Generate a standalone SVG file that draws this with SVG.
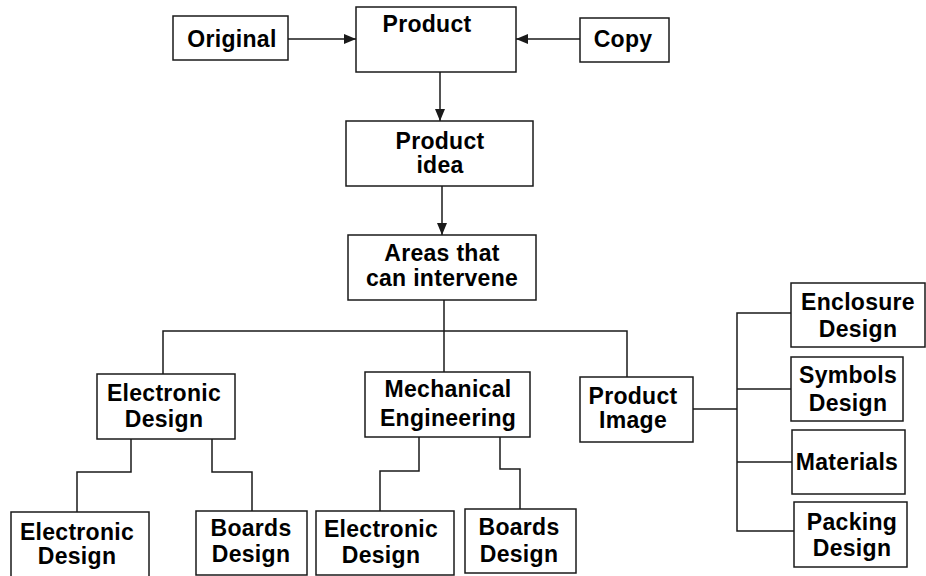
<svg xmlns="http://www.w3.org/2000/svg" width="926" height="576" viewBox="0 0 926 576">
<style>
.box{fill:#fff;stroke:#1a1a1a;stroke-width:1.5}
.ln{fill:none;stroke:#1a1a1a;stroke-width:1.5}
text{font-family:"Liberation Sans",Arial,sans-serif;font-size:23px;font-weight:bold;letter-spacing:0.3px;fill:#000;text-anchor:middle}
</style>
<defs>
<marker id="ah" markerUnits="userSpaceOnUse" markerWidth="13" markerHeight="11" refX="12" refY="5" orient="auto">
<path d="M0,0 L12,5 L0,10 z" fill="#1a1a1a"/>
</marker>
</defs>
<rect width="926" height="576" fill="#fff"/>
<g id="connectors">
<line class="ln" x1="288" y1="39" x2="356" y2="39" marker-end="url(#ah)"/>
<line class="ln" x1="580" y1="39" x2="516" y2="39" marker-end="url(#ah)"/>
<line class="ln" x1="440" y1="72" x2="440" y2="121" marker-end="url(#ah)"/>
<line class="ln" x1="442" y1="186" x2="442" y2="235" marker-end="url(#ah)"/>
<polyline class="ln" points="444,300 444,372"/>
<polyline class="ln" points="163,374 163,331 627,331 627,377"/>
<polyline class="ln" points="131,439 131,472 77,472 77,512"/>
<polyline class="ln" points="212,439 212,472 252,472 252,511"/>
<polyline class="ln" points="419,437 419,471 380,471 380,511"/>
<polyline class="ln" points="500,437 500,469 520,469 520,509"/>
<polyline class="ln" points="693,409 737,409"/>
<polyline class="ln" points="791,313 737,313 737,531 794,531"/>
<polyline class="ln" points="737,389 791,389"/>
<polyline class="ln" points="737,462 792,462"/>
</g>
<g id="original"><rect class="box" x="173" y="16" width="115" height="44"/><text x="232" y="47">Original</text></g>
<g id="product"><rect class="box" x="356" y="7" width="160" height="65"/><text x="427" y="32">Product</text></g>
<g id="copy"><rect class="box" x="580" y="18" width="89" height="44"/><text x="623" y="47">Copy</text></g>
<g id="product-idea"><rect class="box" x="346" y="121" width="187" height="65"/><text x="440" y="149">Product</text><text x="440" y="173">idea</text></g>
<g id="areas"><rect class="box" x="348" y="235" width="188" height="65"/><text x="442" y="261">Areas that</text><text x="442" y="286">can intervene</text></g>
<g id="electronic-design"><rect class="box" x="97" y="374" width="138" height="65"/><text x="164" y="401">Electronic</text><text x="164" y="427">Design</text></g>
<g id="mechanical-engineering"><rect class="box" x="365" y="372" width="165" height="65"/><text x="448" y="397">Mechanical</text><text x="448" y="426">Engineering</text></g>
<g id="product-image"><rect class="box" x="580" y="377" width="113" height="65"/><text x="633" y="404">Product</text><text x="633" y="428">Image</text></g>
<g id="enclosure-design"><rect class="box" x="791" y="283" width="134" height="64"/><text x="858" y="310">Enclosure</text><text x="858" y="337">Design</text></g>
<g id="symbols-design"><rect class="box" x="791" y="357" width="112" height="64"/><text x="848" y="383">Symbols</text><text x="848" y="411">Design</text></g>
<g id="materials"><rect class="box" x="792" y="430" width="113" height="64"/><text x="847" y="470">Materials</text></g>
<g id="packing-design"><rect class="box" x="794" y="502" width="113" height="65"/><text x="852" y="530">Packing</text><text x="852" y="556">Design</text></g>
<g id="electronic-design-2"><rect class="box" x="11" y="512" width="138" height="66"/><text x="77" y="540">Electronic</text><text x="77" y="564">Design</text></g>
<g id="boards-design-1"><rect class="box" x="196" y="511" width="111" height="64"/><text x="251" y="536">Boards</text><text x="251" y="562">Design</text></g>
<g id="electronic-design-3"><rect class="box" x="316" y="511" width="138" height="64"/><text x="381" y="537">Electronic</text><text x="381" y="563">Design</text></g>
<g id="boards-design-2"><rect class="box" x="465" y="509" width="111" height="64"/><text x="519" y="535">Boards</text><text x="519" y="562">Design</text></g>
</svg>
